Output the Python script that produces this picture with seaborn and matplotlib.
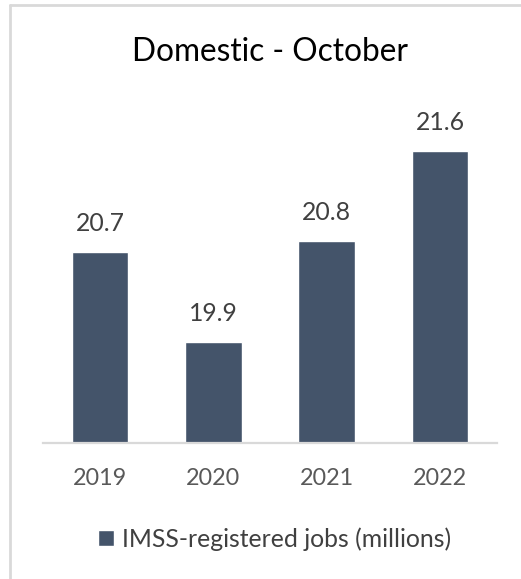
import matplotlib
matplotlib.use("Agg")
import matplotlib.pyplot as plt
from matplotlib.lines import Line2D
import seaborn as sns
import pandas as pd

years = ["2019", "2020", "2021", "2022"]
jobs = [20.7, 19.9, 20.8, 21.6]
series_name = "IMSS-registered jobs (millions)"
title = "Domestic - October"

sns.set_theme(style="white")
plt.rcParams["font.family"] = ["Lato", "DejaVu Sans"]

df = pd.DataFrame({"year": years, "jobs": jobs})

W, H = 521, 579
fig = plt.figure(figsize=(W / 100, H / 100), dpi=100)
ax = fig.add_axes([43.3 / W, 1 - 443.3 / H, 453.4 / W, 343.3 / H])

bar_color = "#44546A"
sns.barplot(data=df, x="year", y="jobs", color=bar_color, width=0.5,
            label=series_name, ax=ax, saturation=1)

ax.set_xlim(-0.5, 3.5)
ax.set_ylim(19.0, 19.0 + 343.3 / 112.5)

for c in ax.containers:
    ax.bar_label(c, labels=[f"{v:.1f}" for v in jobs], padding=12,
                 fontsize=17.8, color="#404040")

ax.set_xlabel("")
ax.set_ylabel("")
ax.set_yticks([])
ax.tick_params(axis="x", length=0, pad=18, labelsize=16.8, labelcolor="#595959")
for s in ["top", "right", "left"]:
    ax.spines[s].set_visible(False)
ax.spines["bottom"].set_color("#d9d9d9")
ax.spines["bottom"].set_linewidth(1.6)

ax.legend(loc="center", bbox_to_anchor=(274.5 / W, 1 - 539 / H),
          bbox_transform=fig.transFigure, frameon=False, fontsize=17.8,
          handlelength=0.65, handleheight=0.6, handletextpad=0.3,
          labelcolor="#404040")

fig.text(270 / W, 1 - 52 / H, title, ha="center", va="center",
         fontsize=22.8, color="#000000")

# light frame along the top and left edge
fig.add_artist(Line2D([10 / W, 1], [1 - 5 / H, 1 - 5 / H],
                      transform=fig.transFigure, color="#d9d9d9", lw=2))
fig.add_artist(Line2D([10 / W, 10 / W], [0, 1 - 5 / H],
                      transform=fig.transFigure, color="#d9d9d9", lw=2))

fig.savefig("out.png", dpi=100)
